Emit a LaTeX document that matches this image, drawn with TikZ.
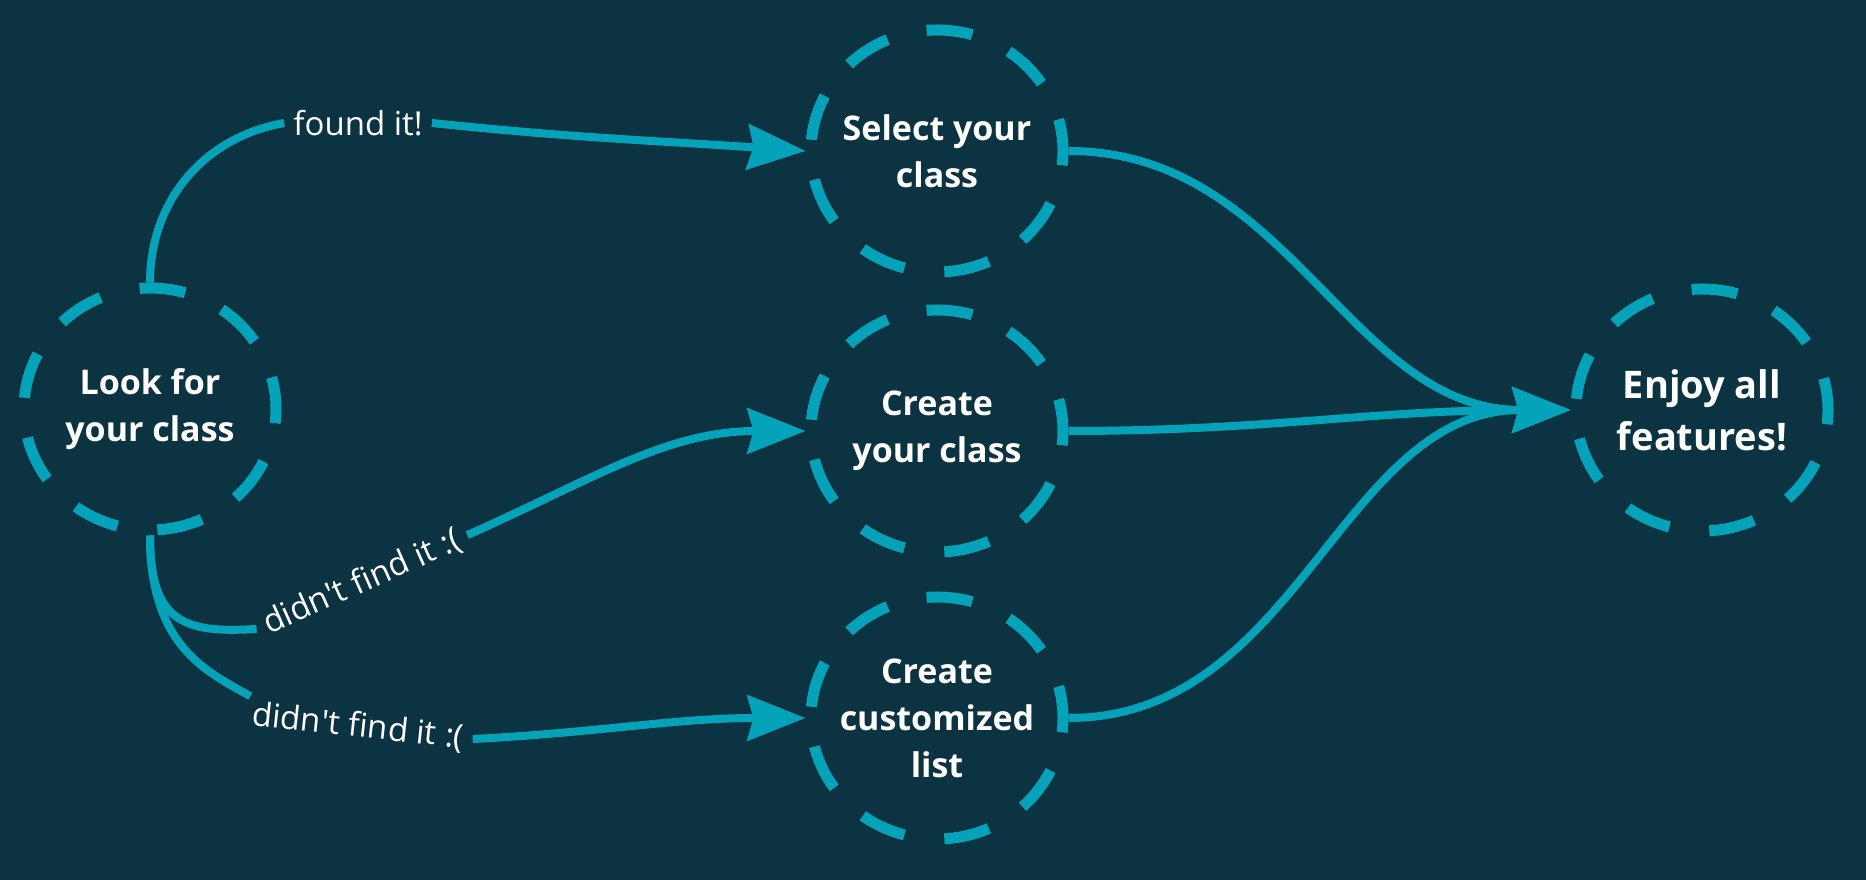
\documentclass[tikz,border=0pt]{standalone}
\usepackage{fontspec}
\setmainfont{Open Sans}
\usepackage{tikz}
\usetikzlibrary{shapes.geometric,arrows.meta}
\definecolor{bg}{HTML}{0C3341}
\definecolor{cyanline}{HTML}{04A3B9}

\begin{document}
\begin{tikzpicture}[x=1pt,y=1pt,
  bubble/.style={ellipse, draw=cyanline, line width=11pt, dash pattern=on 46pt off 40.2pt, dash phase=14pt,
    minimum width=252pt, minimum height=242pt, inner sep=-14pt, align=center, text=white,
    font=\bfseries\fontsize{34}{47}\selectfont},
  lbl/.style={text=white, inner xsep=9pt, inner ysep=4pt, font=\fontsize{33}{40}\selectfont},
  line/.style={draw=cyanline, line width=8pt},
  conn/.style={line, -{Stealth[length=58pt,width=45pt,inset=6pt]}}]
  \fill[bg] (0,0) rectangle (1866,880);

  \node[bubble] (look)   at (150,471)  {Look for\\your class};
  \node[bubble] (select) at (937,729)  {Select your\\class};
  \node[bubble] (create) at (937,449)  {Create\\your class};
  \node[bubble] (custom) at (937,162)  {Create\\customized\\list};
  \node[bubble, font=\bfseries\fontsize{38}{52}\selectfont] (enjoy) at (1702,470) {Enjoy all\\features!};

  \node[lbl]            (found) at (358,757) {found it!};
  \node[lbl, rotate=24] (miss1) at (362,298) {didn\textquotesingle t find it :(};
  \node[lbl, rotate=-6] (miss2) at (358,153) {didn\textquotesingle t find it :(};

  \draw[line] (look.north) to[out=90,in=190] (found.west);
  \draw[conn] (found.east) to[out=-6,in=176] (select.west);
  \draw[line] (look.south) .. controls +(0,-85) and +(-75,-5) .. (miss1.west);
  \draw[conn] (miss1.east) to[out=24,in=180] (create.west);
  \draw[line] (look.south) .. controls +(0,-110) and +(-45,25) .. (miss2.170);
  \draw[conn] (miss2.east) to[out=3,in=180] (custom.west);

  \draw[conn] (select.east) to[out=0,in=180] (enjoy.west);
  \draw[conn] (create.east) to[out=0,in=180] (enjoy.west);
  \draw[conn] (custom.east) to[out=0,in=180] (enjoy.west);
\end{tikzpicture}
\end{document}
